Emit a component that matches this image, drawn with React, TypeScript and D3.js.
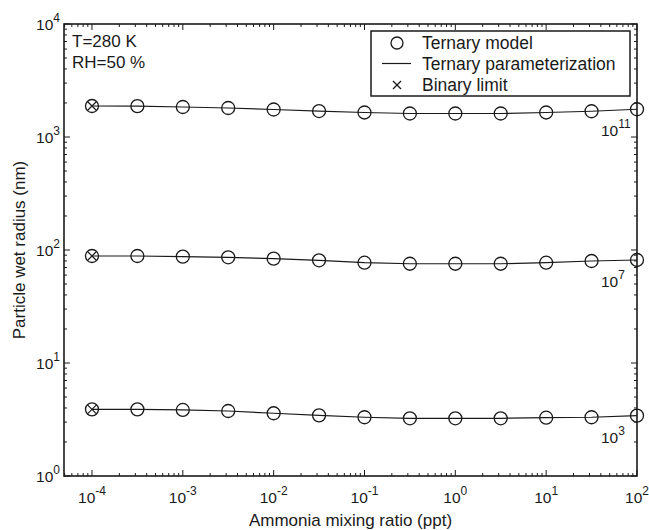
import React from "react";
import * as d3 from "d3";

const ammonia = [1e-4, 3.16e-4, 1e-3, 3.16e-3, 1e-2, 3.16e-2, 1e-1, 3.16e-1, 1, 3.16, 10, 31.6, 100];
const series11 = [1880, 1875, 1843, 1806, 1751, 1697, 1648, 1614, 1614, 1614, 1648, 1690, 1760];
const series7 = [88.5, 88.5, 87.3, 86.2, 83.8, 81.1, 77.2, 75.6, 75.6, 75.6, 77.2, 79.9, 81.6];
const series3 = [3.89, 3.89, 3.84, 3.76, 3.59, 3.44, 3.31, 3.24, 3.24, 3.24, 3.28, 3.31, 3.42];
const seriesLabels = ["11", "7", "3"];
const xTickExps = ["-4", "-3", "-2", "-1", "0", "1", "2"];
const yTickExps = ["0", "1", "2", "3", "4"];
const legendLabels = ["Ternary model", "Ternary parameterization", "Binary limit"];

const W = 649, H = 530;
const L = 64, R = 637, T = 24, B = 476;
const FONT = "Liberation Sans, Arial, Helvetica, sans-serif";
const INK = "#1a1a1a";

export default function App() {
  const x = d3.scaleLog().domain([4.92e-5, 100]).range([L, R]);
  const y = d3.scaleLog().domain([1, 1e4]).range([B, T]);
  const line = d3.line<number>().x((_, i) => x(ammonia[i])).y((d) => y(d));
  const all = [series11, series7, series3];

  const xMinor: number[] = [];
  for (let e = -5; e <= 1; e++) for (let k = 2; k <= 9; k++) {
    const v = k * Math.pow(10, e);
    if (v >= 4.92e-5 && v <= 100) xMinor.push(v);
  }
  const yMinor: number[] = [];
  for (let e = 0; e <= 3; e++) for (let k = 2; k <= 9; k++) yMinor.push(k * Math.pow(10, e));

  return (
    <svg width={W} height={H} style={{ position: "absolute", left: 0, top: 0, background: "#fff" }} fontFamily={FONT}>
      <rect x={0} y={0} width={W} height={H} fill="#fff" />
      {xMinor.map((v, i) => (
        <g key={"xm" + i} stroke={INK} strokeWidth={1}>
          <line x1={x(v)} x2={x(v)} y1={B} y2={B - 3} />
          <line x1={x(v)} x2={x(v)} y1={T} y2={T + 3} />
        </g>
      ))}
      {xTickExps.map((e, i) => {
        const v = Math.pow(10, +e);
        return (
          <g key={"xt" + i}>
            <line x1={x(v)} x2={x(v)} y1={B} y2={B - 6} stroke={INK} />
            <line x1={x(v)} x2={x(v)} y1={T} y2={T + 6} stroke={INK} />
            <text x={x(v)} y={503} textAnchor="middle" fontSize={15.5} fill={INK}>
              10<tspan dy={-8} fontSize={12}>{e}</tspan>
            </text>
          </g>
        );
      })}
      {yMinor.map((v, i) => (
        <g key={"ym" + i} stroke={INK} strokeWidth={1}>
          <line x1={L} x2={L + 3} y1={y(v)} y2={y(v)} />
          <line x1={R} x2={R - 3} y1={y(v)} y2={y(v)} />
        </g>
      ))}
      {yTickExps.map((e, i) => {
        const v = Math.pow(10, +e);
        return (
          <g key={"yt" + i}>
            <line x1={L} x2={L + 6} y1={y(v)} y2={y(v)} stroke={INK} />
            <line x1={R} x2={R - 6} y1={y(v)} y2={y(v)} stroke={INK} />
            <text x={60} y={y(v) + 6} textAnchor="end" fontSize={15.5} fill={INK}>
              10<tspan dy={-8} fontSize={12}>{e}</tspan>
            </text>
          </g>
        );
      })}
      <rect x={L} y={T} width={R - L} height={B - T} fill="none" stroke={INK} strokeWidth={1.6} />

      {all.map((s, si) => (
        <g key={"s" + si}>
          <path d={line(s) || ""} fill="none" stroke={INK} strokeWidth={1.2} />
          {s.map((v, i) => (
            <circle key={i} cx={x(ammonia[i])} cy={y(v)} r={6.5} fill="none" stroke={INK} strokeWidth={1.3} />
          ))}
          <g stroke={INK} strokeWidth={1.2}>
            <line x1={x(ammonia[0]) - 4.5} x2={x(ammonia[0]) + 4.5} y1={y(s[0]) - 4.5} y2={y(s[0]) + 4.5} />
            <line x1={x(ammonia[0]) - 4.5} x2={x(ammonia[0]) + 4.5} y1={y(s[0]) + 4.5} y2={y(s[0]) - 4.5} />
          </g>
          <text x={601} y={y(s[s.length - 1]) + 27} fontSize={15.5} fill={INK}>
            10<tspan dy={-8} fontSize={12}>{seriesLabels[si]}</tspan>
          </text>
        </g>
      ))}

      <text x={72} y={47} fontSize={17} fill={INK}>T=280 K</text>
      <text x={72} y={68} fontSize={17} fill={INK}>RH=50 %</text>

      <rect x={371} y={31} width={259} height={65} fill="#fff" stroke={INK} strokeWidth={1.5} />
      <circle cx={397} cy={43} r={6} fill="none" stroke={INK} strokeWidth={1.3} />
      <line x1={382} x2={411} y1={63.5} y2={63.5} stroke={INK} strokeWidth={1.2} />
      <g stroke={INK} strokeWidth={1.2}>
        <line x1={393} x2={401} y1={81} y2={89} />
        <line x1={393} x2={401} y1={89} y2={81} />
      </g>
      {legendLabels.map((l, i) => (
        <text key={l} x={422} y={49 + i * 21} fontSize={17.5} fill={INK}>{l}</text>
      ))}

      <text x={(L + R) / 2} y={526} textAnchor="middle" fontSize={17} fill={INK}>Ammonia mixing ratio (ppt)</text>
      <text transform={`translate(25,${(T + B) / 2}) rotate(-90)`} textAnchor="middle" fontSize={17} fill={INK}>
        Particle wet radius (nm)
      </text>
    </svg>
  );
}
